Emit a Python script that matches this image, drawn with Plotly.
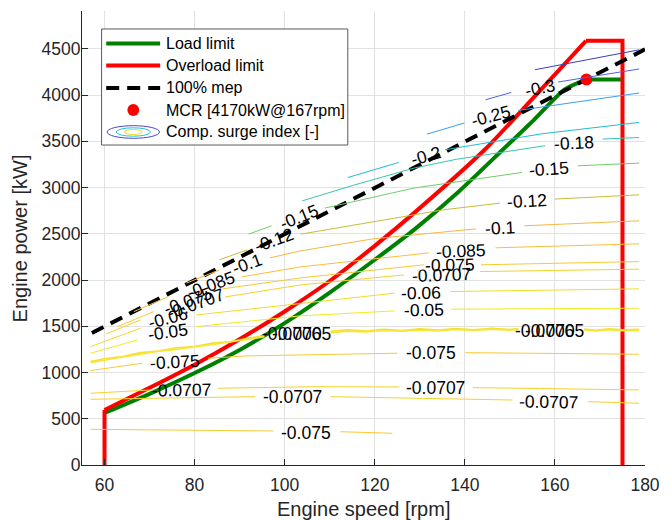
import plotly.graph_objects as go

# ---------------- data ----------------
load_rpm = [60, 70, 80, 90, 100, 110, 120, 128.7, 138.5, 148.4, 155.3, 162.1, 167, 175]
load_kw = [563, 770, 995, 1245, 1535, 1865, 2220, 2543, 2950, 3409, 3730, 4059, 4170, 4170]

overload_rpm = [60, 60, 70, 80, 90, 100, 110, 120, 128.7, 144.4, 155, 166.9, 175, 175]
overload_kw = [0, 595, 835, 1085, 1360, 1660, 1990, 2370, 2724, 3409, 3960, 4587, 4587, 0]

mep_rpm = [57.2, 180]
mep_kw = [1428, 4495]

mcr_rpm = [167]
mcr_kw = [4170]

# contour lines of the compressor surge index (None = gap for inline label)
lvl_m035_rpm = [155.6, 178.7]
lvl_m035_kw = [4275, 4490]
lvl_m030_rpm = [144.6, 150.3, None, 160.7, 178.7]
lvl_m030_kw = [3950, 4029, None, 4142, 4283]
lvl_m025_rpm = [131.6, 139.9, None, 151.9, 178.7]
lvl_m025_kw = [3579, 3698, None, 3835, 4023]
lvl_m020_rpm = [114.0, 125.3, None, 135.6, 157.1, 178.7]
lvl_m020_kw = [3109, 3272, None, 3409, 3582, 3705]
lvl_m018_rpm = [103.9, 115.6, 128.7, 138.1, 157.8, None, 170.6, 178.7]
lvl_m018_kw = [2857, 3030, 3211, 3306, 3453, None, 3525, 3542]
lvl_m015_rpm = [92.0, 97.1, None, 108.9, 128.7, 152.7, None, 165.1, 178.7]
lvl_m015_kw = [2497, 2587, None, 2778, 2995, 3164, None, 3236, 3265]
lvl_m012_rpm = [85.5, 91.7, None, 103.6, 120.0, 135.3, 147.8, None, 160.0, 178.7]
lvl_m012_kw = [2219, 2327, None, 2497, 2630, 2760, 2832, None, 2876, 2922]
lvl_m010_rpm = [78.2, 85.5, None, 96.7, 103.6, 119.6, 142.5, None, 153.2, 178.7]
lvl_m010_kw = [1967, 2110, None, 2240, 2316, 2446, 2554, None, 2587, 2641]
lvl_m0085_rpm = [66.5, 74.2, None, 90.5, 103.6, 132.0, None, 146.8, 178.7]
lvl_m0085_kw = [1659, 1822, None, 2035, 2143, 2294, None, 2349, 2392]
lvl_m0075a_rpm = [62.9, 70.9, None, 86.2, 103.6, 130.9, None, 143.6, 178.7]
lvl_m0075a_kw = [1497, 1659, None, 1905, 2024, 2165, None, 2165, 2200]
lvl_m00707a_rpm = [60.4, 68.0, None, 86.8, 103.6, 126.5, None, 143.4, 178.7]
lvl_m00707a_kw = [1418, 1569, None, 1818, 1948, 2056, None, 2092, 2118]
lvl_m006_rpm = [56.9, 68.0, None, 80.4, 103.6, 124.4, None, 136.8, 178.7]
lvl_m006_kw = [1280, 1480, None, 1623, 1750, 1858, None, 1876, 1905]
lvl_m005_rpm = [56.9, 67.3, None, 80.4, 103.6, 124.4, None, 137.0, 178.7]
lvl_m005_kw = [1209, 1353, None, 1497, 1613, 1667, None, 1685, 1696]
lvl_m0075b_rpm = [56.9, 68.4, None, 83.0, 91.6, 125.0, None, 140.1, 178.7]
lvl_m0075b_kw = [1021, 1101, None, 1155, 1180, 1209, None, 1215, 1198]
lvl_m00707b_rpm = [56.9, 70.6, None, 85.2, 107.4, 125.5, None, 141.8, 178.7]
lvl_m00707b_kw = [776, 812, None, 830, 847, 844, None, 837, 812]
lvl_m00707c_rpm = [56.9, 93.5, None, 110.2, 150.6, None, 167.4, 178.7]
lvl_m00707c_kw = [711, 739, None, 739, 703, None, 685, 668]
lvl_m0075c_rpm = [56.9, 97.5, None, 112.4, 123.9]
lvl_m0075c_kw = [386, 368, None, 360, 343]

wig_rpm = [56.9, 60, 64, 68, 72, 76, 80, 84, 88, 92, 95.5, None,
           110.2, 114, 118, 122, 126, 130, 134, 138, 142, 146, 150, 151.9, None,
           166.5, 169, 172, 175, 178.7]
wig_a_kw = [1118, 1150, 1172, 1215, 1232, 1268, 1280, 1318, 1332, 1372, 1398, None,
            1445, 1462, 1450, 1468, 1455, 1472, 1460, 1476, 1462, 1478, 1466, 1477, None,
            1470, 1458, 1474, 1462, 1468]
wig_b_kw = [1105, 1135, 1168, 1198, 1230, 1250, 1280, 1300, 1335, 1358, 1388, None,
            1432, 1448, 1440, 1455, 1446, 1460, 1450, 1465, 1455, 1468, 1458, 1465, None,
            1458, 1450, 1462, 1452, 1456]

label_text = ["-0.3", "-0.25", "-0.2", "-0.18", "-0.15", "-0.15", "-0.12", "-0.12",
              "-0.1", "-0.1", "-0.085", "-0.085", "-0.075", "-0.0707", "-0.075", "-0.0707",
              "-0.06", "-0.06", "-0.05", "-0.05", "-0.075", "-0.075", "-0.0707", "-0.0707",
              "-0.0707", "-0.0707", "-0.075",
              "-0.0706", "-0.0705", "-0.0706", "-0.0705"]
label_rpm = [156.6, 145.8, 131.3, 164.3, 103.2, 158.6, 97.7, 153.8,
             91.6, 147.7, 83.6, 139.2, 78.5, 80.1, 136.8, 134.8,
             74.2, 130.3, 74.2, 130.9, 75.7, 132.4, 77.0, 133.5,
             101.7, 158.6, 104.7,
             101.6, 103.8, 157.7, 159.9]
label_kw = [4080, 3770, 3337, 3485, 2687, 3200, 2435, 2850,
            2175, 2565, 1948, 2316, 1775, 1743, 2165, 2056,
            1591, 1862, 1440, 1678, 1115, 1209, 812, 830,
            736, 685, 350,
            1418, 1418, 1450, 1450]

# ---------------- styles ----------------
FONT = "Arial, 'Liberation Sans', sans-serif"
label_angle = [-12, -15, -16, -3, -22, -4, -20, -3,
               -20, -3, -20, -2, -20, -20, -1, -2,
               -15, -1, -8, -1, -3, 0, -1, 0,
               0, 1, 0,
               0, 0, 0, 0]

contour_sets = [
    (lvl_m035_rpm, lvl_m035_kw, "#3e3bc0"),
    (lvl_m030_rpm, lvl_m030_kw, "#4a63ee"),
    (lvl_m025_rpm, lvl_m025_kw, "#3a9ef2"),
    (lvl_m020_rpm, lvl_m020_kw, "#1fbcd5"),
    (lvl_m018_rpm, lvl_m018_kw, "#38c6ad"),
    (lvl_m015_rpm, lvl_m015_kw, "#72cc6a"),
    (lvl_m012_rpm, lvl_m012_kw, "#c8bd38"),
    (lvl_m010_rpm, lvl_m010_kw, "#f5b841"),
    (lvl_m0085_rpm, lvl_m0085_kw, "#fbbe3c"),
    (lvl_m0075a_rpm, lvl_m0075a_kw, "#f9c933"),
    (lvl_m00707a_rpm, lvl_m00707a_kw, "#f8d02c"),
    (lvl_m006_rpm, lvl_m006_kw, "#f1dc24"),
    (lvl_m005_rpm, lvl_m005_kw, "#f2ea1e"),
    (lvl_m0075b_rpm, lvl_m0075b_kw, "#f9c933"),
    (lvl_m00707b_rpm, lvl_m00707b_kw, "#f8d02c"),
    (lvl_m00707c_rpm, lvl_m00707c_kw, "#f8d02c"),
    (lvl_m0075c_rpm, lvl_m0075c_kw, "#f9c933"),
]

fig = go.Figure()

GREEN = dict(color="#008000", width=4)
RED = dict(color="#ff0000", width=4)

# load limit: smooth curve up to MCR, then flat
fig.add_trace(go.Scatter(x=load_rpm[:13], y=load_kw[:13], mode="lines",
                         line=dict(shape="spline", smoothing=0.6, **GREEN), hoverinfo="skip"))
fig.add_trace(go.Scatter(x=load_rpm[12:], y=load_kw[12:], mode="lines",
                         line=GREEN, hoverinfo="skip"))
# overload limit: vertical start, smooth curve, flat top, vertical end
fig.add_trace(go.Scatter(x=overload_rpm[:2], y=overload_kw[:2], mode="lines",
                         line=RED, hoverinfo="skip"))
fig.add_trace(go.Scatter(x=overload_rpm[1:12], y=overload_kw[1:12], mode="lines",
                         line=dict(shape="spline", smoothing=0.6, **RED), hoverinfo="skip"))
fig.add_trace(go.Scatter(x=overload_rpm[11:], y=overload_kw[11:], mode="lines",
                         line=RED, hoverinfo="skip"))
fig.add_trace(go.Scatter(x=mep_rpm, y=mep_kw, mode="lines",
                         line=dict(color="#000000", width=4, dash="13px,8px"), hoverinfo="skip"))
fig.add_trace(go.Scatter(x=mcr_rpm, y=mcr_kw, mode="markers",
                         marker=dict(color="#ff0000", size=12), hoverinfo="skip"))

for xs, ys, col in contour_sets:
    fig.add_trace(go.Scatter(x=xs, y=ys, mode="lines", connectgaps=False,
                             line=dict(color=col, width=1), hoverinfo="skip"))
fig.add_trace(go.Scatter(x=wig_rpm, y=wig_a_kw, mode="lines", connectgaps=False,
                         line=dict(color="#f4e12c", width=1.6), hoverinfo="skip"))
fig.add_trace(go.Scatter(x=wig_rpm, y=wig_b_kw, mode="lines", connectgaps=False,
                         line=dict(color="#f6e638", width=1.6), hoverinfo="skip"))

annotations = []
for t, xr, yk, ang in zip(label_text, label_rpm, label_kw, label_angle):
    annotations.append(dict(x=xr, y=yk, xref="x", yref="y", text=t, showarrow=False,
                            textangle=ang, xanchor="center", yanchor="middle",
                            font=dict(family=FONT, size=17.5, color="#000000")))

# axis titles
annotations.append(dict(x=0.5, y=-0.097, xref="paper", yref="paper", text="Engine speed [rpm]",
                        showarrow=False, xanchor="center", yanchor="middle",
                        font=dict(family=FONT, size=20, color="#262626")))
annotations.append(dict(x=-0.1094, y=0.5, xref="paper", yref="paper", text="Engine power [kW]",
                        showarrow=False, textangle=-90, xanchor="center", yanchor="middle",
                        font=dict(family=FONT, size=20, color="#262626")))

# custom legend
leg_rows = [0.9284, 0.8800, 0.8304, 0.7819, 0.7335]
leg_texts = ["Load limit", "Overload limit", "100% mep", "MCR [4170kW@167rpm]", "Comp. surge index [-]"]
for ty, tt in zip(leg_rows, leg_texts):
    annotations.append(dict(x=0.1463, y=ty, xref="paper", yref="paper", text=tt, showarrow=False,
                            xanchor="left", yanchor="middle",
                            font=dict(family=FONT, size=16, color="#000000")))

shapes = [
    dict(type="rect", xref="paper", yref="paper", x0=0.0348, x1=0.4721, y0=0.7048, y1=0.9604,
         line=dict(color="#5a5a5a", width=1), fillcolor="white", layer="above"),
    dict(type="line", xref="paper", yref="paper", x0=0.0430, x1=0.1388, y0=leg_rows[0], y1=leg_rows[0],
         line=dict(color="#008000", width=4), layer="above"),
    dict(type="line", xref="paper", yref="paper", x0=0.0430, x1=0.1388, y0=leg_rows[1], y1=leg_rows[1],
         line=dict(color="#ff0000", width=4), layer="above"),
    dict(type="line", xref="paper", yref="paper", x0=0.0430, x1=0.1388, y0=leg_rows[2], y1=leg_rows[2],
         line=dict(color="#000000", width=4, dash="13px,8px"), layer="above"),
    dict(type="circle", xref="paper", yref="paper", x0=0.0806, x1=0.1016,
         y0=leg_rows[3] - 0.0132, y1=leg_rows[3] + 0.0132,
         line=dict(color="#ff0000", width=0), fillcolor="#ff0000", layer="above"),
    dict(type="circle", xref="paper", yref="paper", x0=0.0446, x1=0.1376, y0=0.7196, y1=0.7474,
         line=dict(color="#4b45c8", width=1), layer="above"),
    dict(type="circle", xref="paper", yref="paper", x0=0.0606, x1=0.1216, y0=0.7242, y1=0.7427,
         line=dict(color="#22c0d8", width=1), layer="above"),
    dict(type="circle", xref="paper", yref="paper", x0=0.0754, x1=0.1068, y0=0.7280, y1=0.7390,
         line=dict(color="#f0dc20", width=1), layer="above"),
]

axis_common = dict(showgrid=True, gridcolor="#e2e2e2", gridwidth=1, zeroline=False,
                   showline=True, linecolor="#262626", linewidth=1,
                   ticks="inside", ticklen=6, tickwidth=1, tickcolor="#262626",
                   tickfont=dict(family=FONT, size=17.5, color="#262626"))

fig.update_layout(
    width=671, height=520,
    margin=dict(l=82, r=15, t=11, b=55),
    plot_bgcolor="white", paper_bgcolor="white",
    showlegend=False,
    font=dict(family=FONT, color="#262626"),
    xaxis=dict(range=[55, 180], tickvals=[60, 80, 100, 120, 140, 160, 180],
               ticklabelstandoff=4, **axis_common),
    yaxis=dict(range=[0, 4910], tickvals=[0, 500, 1000, 1500, 2000, 2500, 3000, 3500, 4000, 4500],
               ticklabelstandoff=-3, **axis_common),
    annotations=annotations,
    shapes=shapes,
)

fig.write_html("out.html")
